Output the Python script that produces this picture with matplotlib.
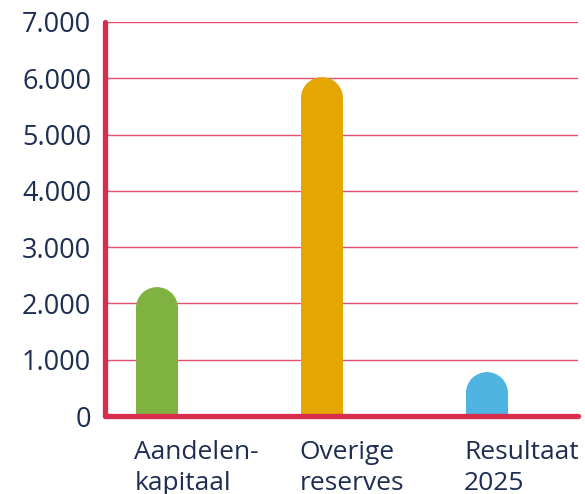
import matplotlib.pyplot as plt
from matplotlib.patches import Ellipse
from matplotlib.ticker import FuncFormatter
from matplotlib.transforms import blended_transform_factory

# Data
categories = ["Aandelen-\nkapitaal", "Overige\nreserves", "Resultaat\n2025"]
values = [2290, 6020, 780]
colors = ["#7fb241", "#e5a502", "#50b4e3"]
yticks = [0, 1000, 2000, 3000, 4000, 5000, 6000, 7000]

RED = "#d92d4e"
TEXT = "#1f2d52"
W, H = 585, 494

fig = plt.figure(figsize=(W / 100, H / 100), dpi=100)
# axes placed in pixel coordinates
left, right, bottom, top = 105, 578, 494 - 416, 494 - 22
ax = fig.add_axes([left / W, bottom / H, (right - left) / W, (top - bottom) / H])

bar_w = 0.255
xmin, xmax = -0.315, 2.552
ymin, ymax = 0, 7000
ax.set_xlim(xmin, xmax)
ax.set_ylim(ymin, ymax)

# radius of rounded cap in data units (half bar width in pixels)
ax_w_px = right - left
ax_h_px = top - bottom
r_px = bar_w / (xmax - xmin) * ax_w_px / 2
r_data = r_px / ax_h_px * (ymax - ymin)

x = list(range(len(categories)))
ax.bar(x, [v - r_data for v in values], width=bar_w, color=colors, zorder=2)
for xi, v, c in zip(x, values, colors):
    ax.add_patch(Ellipse((xi, v - r_data), bar_w, 2 * r_data, color=c, zorder=2, lw=0))

# grid
ax.set_yticks(yticks)
ax.yaxis.set_major_formatter(FuncFormatter(lambda v, _: f"{v:,.0f}".replace(",", ".")))
ax.grid(axis="y", color="#e2506f", linewidth=1.0, zorder=1)
ax.set_axisbelow(True)
ax.tick_params(axis="y", length=0, pad=10, labelsize=19.5, labelcolor=TEXT)
ax.set_xticks([])

for side in ["top", "right"]:
    ax.spines[side].set_visible(False)
for side in ["left", "bottom"]:
    ax.spines[side].set_color(RED)
    ax.spines[side].set_linewidth(3.8)
    ax.spines[side].set_capstyle("round")
    ax.spines[side].set_zorder(3)

# category labels, left aligned to bar edge
trans = blended_transform_factory(ax.transData, ax.transAxes)
for xi, lab in zip(x, categories):
    ax.text(xi - bar_w / 2 - 0.01, -0.062, lab, transform=trans, ha="left", va="top",
            fontsize=19, color=TEXT, linespacing=1.3)

for t in ax.get_yticklabels():
    t.set_fontfamily("Open Sans")
for t in ax.texts:
    t.set_fontfamily("Open Sans")

fig.savefig("out.png", dpi=100, facecolor="white")
